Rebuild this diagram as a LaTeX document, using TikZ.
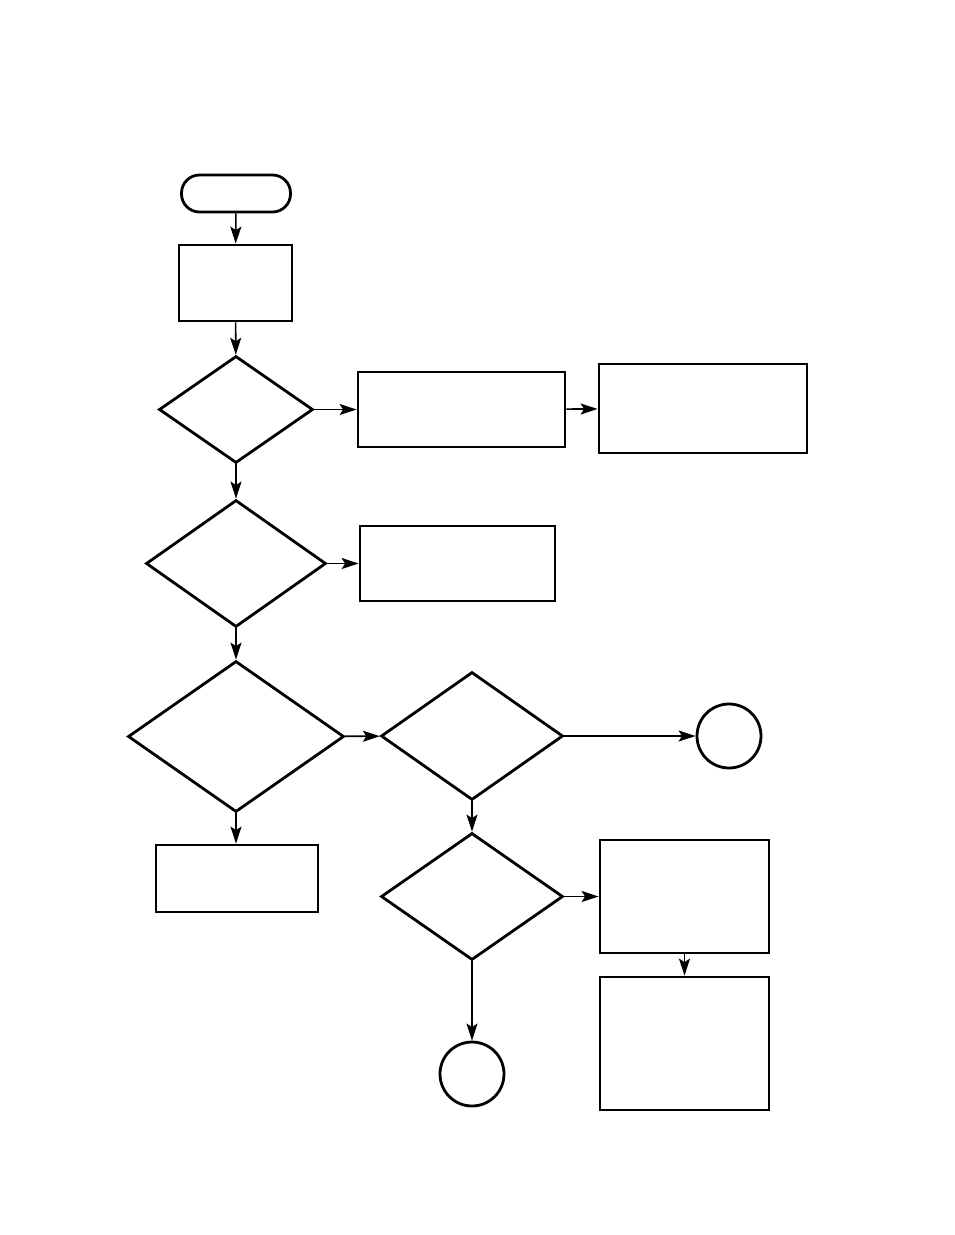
\documentclass[tikz,border=0pt]{standalone}
\usetikzlibrary{arrows.meta,shapes.geometric}

\begin{document}
\begin{tikzpicture}[
    x=1pt, y=-1pt,
    box/.style={draw, line width=2.8pt, inner sep=0pt, minimum width=#1},
    box/.default=160pt,
    decision/.style={draw, diamond, line width=2.8pt, inner sep=0pt},
    term/.style={draw, line width=2.8pt, rounded corners=18pt, minimum width=109pt, minimum height=37pt, inner sep=0pt},
    conn/.style={draw, circle, line width=2.8pt, minimum size=64pt, inner sep=0pt},
    link/.style={-{Stealth[length=17pt, width=11pt, inset=3.5pt]}, line width=1.6pt}
]
\useasboundingbox (0,0) rectangle (954,1235);

% left column
\node[term] (start) at (236,193.5) {};
\node[box=113pt, minimum height=76pt] (init) at (235.5,283) {};
\node[decision, minimum width=154pt, minimum height=107pt] (q1) at (236,409.5) {};
\node[decision, minimum width=180pt, minimum height=127pt] (q2) at (236,563.5) {};
\node[decision, minimum width=216pt, minimum height=151pt] (q3) at (236,736.5) {};
\node[box=162pt, minimum height=67pt] (act5) at (237,878.5) {};

% right side
\node[box=207pt, minimum height=75pt] (act1) at (461.5,409.5) {};
\node[box=208pt, minimum height=89pt] (act2) at (703,408.5) {};
\node[box=195pt, minimum height=75pt] (act3) at (457.5,563.5) {};
\node[decision, minimum width=182pt, minimum height=128pt] (q4) at (472,736) {};
\node[conn] (endA) at (729,736) {};
\node[decision, minimum width=182pt, minimum height=127pt] (q5) at (472,896.5) {};
\node[box=169pt, minimum height=113pt] (act6) at (684.5,896.5) {};
\node[box=169pt, minimum height=133pt] (act7) at (684.5,1043.5) {};
\node[conn] (endB) at (472,1074) {};

\draw[link] (start) -- (init);
\draw[link] (init) -- (q1);
\draw[link] (q1) -- (act1);
\draw[link] (act1) -- (act2);
\draw[link] (q1) -- (q2);
\draw[link] (q2) -- (act3);
\draw[link] (q2) -- (q3);
\draw[link] (q3) -- (q4);
\draw[link] (q3.south) -- (q3.south |- act5.north);
\draw[link] (q4.east) -- (endA.west);
\draw[link] (q4) -- (q5);
\draw[link] (q5) -- (act6);
\draw[link] (act6) -- (act7);
\draw[link] (q5) -- (endB);
\end{tikzpicture}
\end{document}
